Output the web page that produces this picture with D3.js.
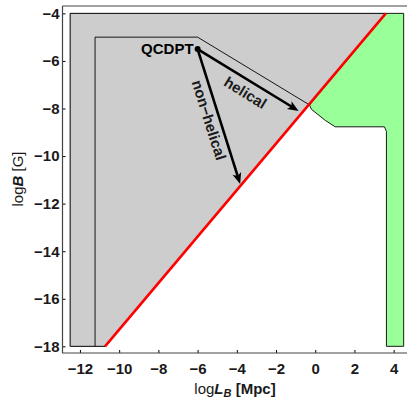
<!DOCTYPE html>
<html>
<head>
<meta charset="utf-8">
<script src="https://cdn.jsdelivr.net/npm/d3@7"></script>
<style>
  body { margin: 0; background: #fff; }
  svg { display: block; font-family: "Liberation Sans", Arial, sans-serif; }
</style>
</head>
<body>
<svg id="chart"></svg>
<script>
// axis ticks
const xTicks = [-12, -10, -8, -6, -4, -2, 0, 2, 4]
const yTicks = [-18, -16, -14, -12, -10, -8, -6, -4]

// gray excluded region [logL, logB]
const grayRegion = [[-12.5, -18], [-10.72, -18], [3.6, -4], [-12.5, -4]]
// thin inner boundary line
const innerLine = [[-11.23, -18], [-11.23, -5], [-6, -5], [-0.29, -7.85]]
// green region
const greenRegion = [[-0.29, -7.85], [-0.2, -8.03], [0.51, -8.5], [1.02, -8.77], [3.53, -8.77],
    [3.63, -8.96], [3.63, -18], [4.51, -18], [4.51, -4], [3.6, -4]]
// red line
const redLine = [[-10.72, -18], [3.6, -4]]
// QCDPT start and arrow ends
const qcdpt = [-6, -5.5]
const arrows = [
    {name: "helical", end: [-0.85, -8.1], label: [-3.56, -7.33]},
    {name: "non\u2212helical", end: [-3.83, -11.17], label: [-5.41, -8.48]}
]

let width = 407
let height = 400

const x = d3.scaleLinear().domain([-12.89, 4.68]).range([62.5, 407])
const y = d3.scaleLinear().domain([-18.28, -3.69]).range([353, 6])

const svg = d3.select("#chart")
    .attr("width", width)
    .attr("height", height)

const line = d3.line().x(d => x(d[0])).y(d => y(d[1]))

svg.append("path")
    .attr("d", line(grayRegion) + "Z")
    .attr("fill", "#cdcdcd")
    .attr("stroke", "#000")
    .attr("stroke-width", 1)

svg.append("path")
    .attr("d", line(innerLine))
    .attr("fill", "none")
    .attr("stroke", "#000")
    .attr("stroke-width", 0.9)

svg.append("path")
    .attr("d", line(greenRegion) + "Z")
    .attr("fill", "#99ff99")
    .attr("stroke", "#1a1a1a")
    .attr("stroke-width", 1)

svg.append("path")
    .attr("d", line(redLine))
    .attr("stroke", "#ff0000")
    .attr("stroke-width", 2.6)

// arrows
const x0 = x(qcdpt[0]), y0 = y(qcdpt[1])
for (let a of arrows) {
    const x1 = x(a.end[0]), y1 = y(a.end[1])
    const ang = Math.atan2(y1 - y0, x1 - x0)
    const len = 11, hw = 4.5
    const bx = x1 - len * Math.cos(ang), by = y1 - len * Math.sin(ang)
    svg.append("line")
        .attr("x1", x0).attr("y1", y0)
        .attr("x2", x1 - 6 * Math.cos(ang)).attr("y2", y1 - 6 * Math.sin(ang))
        .attr("stroke", "#000")
        .attr("stroke-width", 2.6)
    const nx = -Math.sin(ang), ny = Math.cos(ang)
    const ix = x1 - 0.75 * len * Math.cos(ang), iy = y1 - 0.75 * len * Math.sin(ang)
    svg.append("path")
        .attr("d", `M${x1},${y1}L${bx + nx * hw},${by + ny * hw}L${ix},${iy}L${bx - nx * hw},${by - ny * hw}Z`)
        .attr("fill", "#000")

    const deg = ang * 180 / Math.PI
    svg.append("text")
        .attr("transform", `translate(${x(a.label[0])},${y(a.label[1])}) rotate(${deg})`)
        .attr("text-anchor", "middle")
        .attr("dominant-baseline", "central")
        .attr("font-size", 15)
        .attr("font-weight", "bold")
        .attr("fill", "#1a1a1a")
        .text(a.name)
}

svg.append("circle")
    .attr("cx", x0).attr("cy", y0)
    .attr("r", 3)
    .attr("fill", "#000")

svg.append("text")
    .attr("x", x0 - 4)
    .attr("y", y0 + 5)
    .attr("text-anchor", "end")
    .attr("font-size", 15)
    .attr("font-weight", "bold")
    .text("QCDPT")

// axes
const xAxis = svg.append("g")
    .attr("transform", "translate(0,353)")
    .call(d3.axisBottom(x).tickValues(xTicks).tickSizeInner(-3).tickSizeOuter(0).tickPadding(10))
xAxis.select(".domain").remove()

const yAxis = svg.append("g")
    .attr("transform", "translate(62.5,0)")
    .call(d3.axisLeft(y).tickValues(yTicks).tickSizeInner(-3).tickSizeOuter(0).tickPadding(3))
yAxis.select(".domain").remove()

svg.selectAll(".tick text")
    .attr("font-size", 15)
    .attr("font-weight", "bold")
    .attr("font-family", "Liberation Sans, Arial, sans-serif")
    .attr("fill", "#1a1a1a")

// frame
svg.append("path")
    .attr("d", "M62.5,6V353H407M62.5,6H407")
    .attr("fill", "none")
    .attr("stroke", "#444")
    .attr("stroke-width", 1.2)

// axis titles
const xt = svg.append("text")
    .attr("x", 235)
    .attr("y", 394)
    .attr("text-anchor", "middle")
    .attr("font-size", 15)
    .attr("fill", "#1a1a1a")
xt.append("tspan").text("log")
xt.append("tspan").attr("font-weight", "bold").attr("font-style", "italic").text("L")
xt.append("tspan").attr("font-weight", "bold").attr("font-style", "italic")
    .attr("font-size", 11).attr("dy", 3).text("B")
xt.append("tspan").attr("font-weight", "bold").attr("dy", -3).text(" [Mpc]")

const yt = svg.append("text")
    .attr("transform", "translate(23,179) rotate(-90)")
    .attr("text-anchor", "middle")
    .attr("font-size", 15)
    .attr("fill", "#1a1a1a")
yt.append("tspan").text("log")
yt.append("tspan").attr("font-weight", "bold").attr("font-style", "italic").text("B")
yt.append("tspan").text(" [G]")
</script>
</body>
</html>
